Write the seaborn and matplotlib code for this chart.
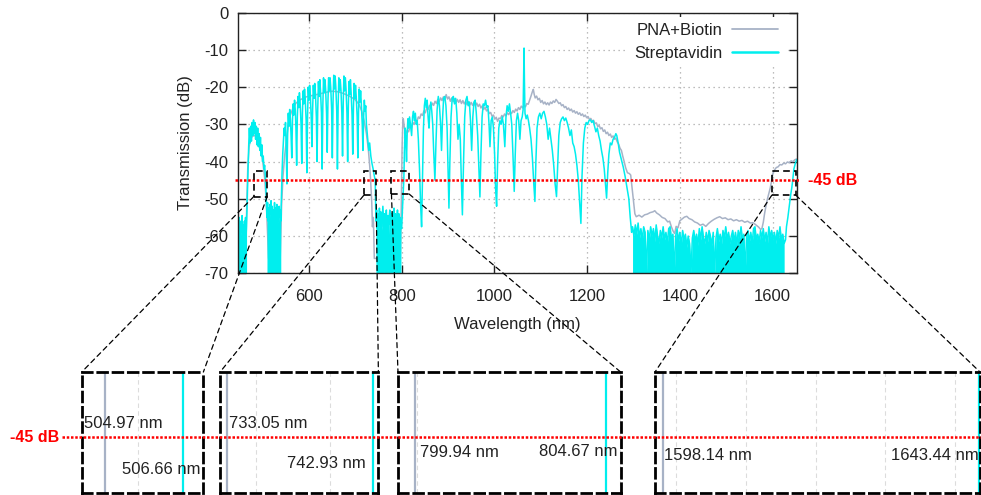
import pandas as pd
import matplotlib
matplotlib.use("Agg")
import matplotlib.pyplot as plt
from matplotlib.lines import Line2D
from matplotlib.patches import Rectangle, ConnectionPatch
from matplotlib.transforms import blended_transform_factory
import seaborn as sns

# ---------------------------------------------------------------------------
# Transmission spectra: (wavelength nm, transmission dB)
# ---------------------------------------------------------------------------
pna_trace = [
    (447, -66), (463, -66), (466, -52), (468, -42), (471, -36), (474, -34),
    (478, -33.2), (483, -33), (488, -33.5), (492, -34.5), (496, -36.5),
    (500, -39.5), (504.97, -45), (508, -51), (511, -60), (513, -66),
    (538, -66), (541, -52), (544, -44), (548, -38), (552, -33.5), (556, -29.5),
    (560, -27.5), (566, -25.5), (572, -24.3), (580, -23.5), (590, -22.8),
    (600, -22.4), (610, -22.2), (620, -21.9), (630, -21.6), (640, -21.3),
    (650, -21.1), (660, -21.2), (670, -21.5), (680, -22.0), (690, -22.6),
    (700, -23.4), (708, -24.6), (714, -26.5), (719, -29.0), (724, -32.5),
    (728, -36.5), (731, -41), (733.05, -45), (735.5, -51), (737, -57.5),
    (739, -55), (741, -66),
    (797, -66), (799, -54), (799.94, -45), (801, -36), (802.5, -29.5),
    (803.5, -28.5), (806, -31), (809, -32.5), (812, -31.5), (815, -32),
    (818, -30.5), (821, -31), (824, -29.5), (827, -30), (830, -28.8),
    (833, -29.2), (836, -28), (839, -28.4), (842, -27.2), (845, -27.6),
    (848, -26.4), (851, -26.9), (854, -25.6), (857, -26), (860, -24.9),
    (863, -25.5), (866, -24.3), (869, -24.9), (872, -23.8), (875, -24.4),
    (878, -23.3), (881, -23.9), (884, -22.9), (887, -23.6), (890, -22.6),
    (893, -23.4), (896, -22.0), (899, -23.2), (902, -22.6), (905, -23.8),
    (908, -22.9), (911, -23.9), (914, -23.1), (917, -24.2), (920, -23.3),
    (923, -24.1), (926, -23.4), (929, -24.4), (932, -23.6), (935, -24.5),
    (938, -23.8), (941, -24.7), (944, -23.9), (947, -24.8), (950, -24.1),
    (953, -24.9), (956, -24.2), (959, -25.0), (962, -24.3), (965, -25.2),
    (968, -24.6), (971, -25.6), (974, -25.0), (977, -26.0), (980, -25.4),
    (983, -26.4), (986, -26.0), (989, -27.1), (992, -26.8), (995, -27.8),
    (998, -27.5), (1001, -28.6), (1004, -28.1), (1007, -29.2), (1010, -28.3),
    (1013, -28.5), (1016, -27.6), (1019, -28.0), (1022, -27.2), (1025, -27.7),
    (1028, -26.9), (1031, -27.4), (1034, -26.6), (1037, -27.1), (1040, -26.3),
    (1043, -26.8), (1046, -25.9), (1049, -26.4), (1052, -25.5), (1055, -26.0),
    (1058, -25.1), (1061, -25.6), (1064, -24.8), (1067, -25.3), (1070, -24.4),
    (1073, -24.6), (1076, -23.5), (1079, -22.4), (1082, -21.2), (1084, -20.6),
    (1086, -22.0), (1088, -22.9), (1091, -22.4), (1094, -23.4), (1097, -23.0),
    (1100, -24.1), (1103, -23.6), (1106, -24.5), (1109, -24.0), (1112, -24.7),
    (1115, -24.2), (1118, -24.8), (1121, -24.0), (1124, -24.4), (1127, -23.7),
    (1130, -24.1), (1133, -23.3), (1136, -23.8), (1139, -24.4), (1142, -24.2),
    (1145, -25.0), (1148, -24.7), (1151, -25.5), (1154, -25.2), (1157, -26.0),
    (1160, -25.6), (1163, -26.3), (1166, -25.9), (1169, -26.7), (1172, -26.3),
    (1175, -27.0), (1178, -26.6), (1181, -27.3), (1184, -26.9), (1187, -27.6),
    (1190, -27.2), (1193, -27.9), (1196, -27.5), (1199, -28.2), (1202, -27.9),
    (1205, -28.7), (1208, -28.4), (1211, -29.2), (1214, -28.9), (1217, -29.8),
    (1220, -29.6), (1223, -30.6), (1226, -30.3), (1229, -31.2), (1232, -30.9),
    (1235, -31.9), (1238, -31.5), (1241, -32.5), (1244, -32.1), (1247, -33.0),
    (1250, -32.6), (1253, -33.5), (1256, -33.1), (1259, -34.0), (1262, -33.7),
    (1265, -34.7), (1268, -35.3), (1271, -36.4), (1274, -37.0), (1277, -38.6),
    (1280, -40.0), (1283, -41.6), (1287, -43.0), (1291, -43.2), (1294, -43.6),
    (1297, -47.0), (1300, -50.5), (1303, -54.0), (1306, -54.8), (1312, -54.4),
    (1318, -54.9), (1324, -54.3), (1330, -54.1), (1336, -53.7), (1342, -53.5),
    (1346, -53.2), (1350, -53.8), (1356, -54.3), (1362, -55.0), (1368, -55.3),
    (1374, -56.2), (1378, -56.0), (1382, -57.6), (1386, -58.8), (1389, -59.3),
    (1392, -57.4), (1396, -57.8), (1400, -55.9), (1405, -55.4), (1410, -54.9),
    (1415, -54.7), (1420, -55.3), (1426, -55.6), (1432, -56.2), (1438, -56.5),
    (1444, -57.1), (1450, -56.8), (1456, -57.4), (1462, -56.6), (1468, -56.0),
    (1474, -55.5), (1480, -55.1), (1486, -54.8), (1492, -55.3), (1498, -55.1),
    (1504, -55.6), (1510, -55.4), (1516, -55.9), (1522, -55.6), (1528, -56.0),
    (1534, -55.8), (1540, -56.3), (1546, -56.0), (1552, -56.5), (1558, -56.4),
    (1564, -57.0), (1570, -57.6), (1574, -58.2), (1577, -58.0), (1580, -56.3),
    (1583, -53.8), (1586, -51.8), (1589, -50.0), (1592, -48.6), (1595, -47.1),
    (1598.14, -45), (1601, -43.1), (1604, -42.3), (1608, -41.6), (1612, -41.4),
    (1616, -40.8), (1620, -40.9), (1624, -40.4), (1628, -40.6), (1632, -40.1),
    (1636, -40.3), (1640, -39.8), (1644, -40.0), (1648, -39.5), (1652, -39.3),
]

# Streptavidin trace, split into fringe bands and the noise-floor stretches
strep_noise_a = [
    (447, -57), (448.3, -60), (449.5, -55), (450.8, -58), (452, -62),
    (453.3, -56), (454.5, -59), (455.8, -54.5), (457, -60), (458.3, -57),
    (459.5, -61), (460.8, -56), (462, -58.5), (463.3, -55), (464.5, -60),
    (465.5, -57),
]
strep_band_a = [
    (467, -50), (468.5, -42), (470, -36), (471.5, -31), (473, -35),
    (474.5, -30.5), (476, -34.5), (477.5, -29.5), (479, -33), (480.5, -28.8),
    (482, -32.5), (483.5, -29.5), (485, -34), (486.5, -30.5), (488, -35.5),
    (489.5, -31), (491, -36), (492.5, -32.5), (494, -37), (495.5, -33.5),
    (497, -38.5), (498.5, -35.5), (500, -40), (501.5, -38.5), (503, -42),
    (504.5, -41), (506.66, -45), (507.5, -48), (508.5, -52),
]
strep_noise_b = [
    (509.5, -55), (510.8, -51), (512, -56), (513.3, -52.5), (514.5, -57),
    (515.8, -51.5), (517, -54), (518.3, -50.5), (519.5, -55.5), (520.8, -52),
    (522, -57), (523.3, -53), (524.5, -55.5), (525.8, -51), (527, -56.5),
    (528.3, -52.5), (529.5, -54.5), (530.8, -51.5), (532, -57), (533.3, -53.5),
    (534.5, -56), (535.8, -52), (537, -55), (538.3, -53), (539.3, -56),
]
strep_band_b = [
    (540.5, -50), (542, -43), (543.5, -38), (545, -34.5), (546.5, -31),
    (548, -33), (549.5, -29.5), (551, -36), (552.5, -46), (554, -33),
    (555.5, -27), (557, -30.5), (558.5, -26), (560, -28.5), (561.5, -33),
    (563, -39), (564.5, -29), (566, -24.5), (567.5, -27.5), (569, -23.5),
    (570.5, -26), (572, -31), (573.5, -41), (575, -28), (576.5, -22.5),
    (578, -25.5), (579.5, -21.5), (581, -24), (583, -30), (584.5, -40.5),
    (586, -27), (587.5, -21), (589, -24.5), (590.5, -20.5), (592, -23),
    (594, -29), (595.5, -43), (597, -28), (598.5, -20), (600, -23.5),
    (601.5, -19.5), (603, -22), (605, -28.5), (606.5, -36), (608, -26),
    (609.5, -19.5), (611, -23), (612.5, -19), (614, -21.5), (616, -28),
    (617.5, -40), (619, -26), (620.5, -18.5), (622, -22.5), (623.5, -18),
    (625, -21), (627, -27), (628.5, -42), (630, -25), (631.5, -17.5),
    (633, -21.5), (634.5, -18), (636, -20.5), (638, -27), (639.5, -37.5),
    (641, -24), (642.5, -17.5), (644, -21), (645.5, -17.5), (647, -20),
    (649, -26), (650.5, -39), (652, -24), (653.5, -16.8), (655, -20.5),
    (656.5, -17), (658, -20), (660, -26.5), (661.5, -42), (663, -25),
    (664.5, -17.5), (666, -21), (667.5, -18), (669, -20.5), (671, -27),
    (672.5, -38.5), (674, -24), (675.5, -17), (677, -21), (678.5, -17.5),
    (680, -20.5), (682, -27), (683.5, -40), (685, -25), (686.5, -18.5),
    (688, -22), (689.5, -18), (691, -21.5), (693, -27.5), (694.5, -38),
    (696, -25.5), (697.5, -19), (699, -23), (700.5, -19.5), (702, -22.5),
    (704, -28), (705.5, -39), (707, -26.5), (708.5, -20.5), (710, -24),
    (711.5, -21), (713, -24.5), (715, -30), (716.5, -37), (718, -28),
    (719.5, -23.5), (721, -26.5), (722.5, -25), (724, -30), (726.5, -33.5),
    (729, -37), (731, -35), (733.5, -38.5), (736, -40.5), (738.5, -42),
    (740.5, -43.5), (742.93, -45), (744, -53),
]
strep_noise_c = [
    (744.5, -56), (746, -53), (747.5, -58), (749, -54), (750.5, -59),
    (752, -52.5), (753.5, -57), (755, -53.5), (756.5, -58.5), (758, -55),
    (759.5, -52), (761, -57.5), (762.5, -54), (764, -59), (765.5, -55.5),
    (767, -53), (768.5, -58), (770, -54.5), (771.5, -60), (773, -55),
    (774.5, -53), (776, -57), (777.5, -54), (779, -58.5), (780.5, -53.5),
    (782, -56.5), (783.5, -52.5), (785, -57.5), (786.5, -54), (788, -59),
    (789.5, -55), (791, -53), (792.5, -57), (794, -54), (795.5, -58),
    (797, -55), (798.5, -57.5),
]
strep_band_c = [
    (800.0, -58), (802.0, -52), (804.67, -45), (806.0, -37), (807.5, -31),
    (809.0, -34), (810.5, -40), (812.0, -32), (813.5, -28.5), (815.0, -31),
    (817.0, -28), (819.0, -30), (821.5, -33), (823.5, -28), (825.5, -26.5),
    (827.5, -29), (829.5, -27), (831.5, -30), (833.5, -29), (836.0, -34),
    (838.5, -42), (841.0, -52), (843.0, -57.5), (845.0, -44), (847.0, -31),
    (849.0, -25), (851.0, -23), (853.0, -25.5), (855.0, -23.5), (857.0, -28),
    (859.0, -31), (861.0, -26), (863.0, -24), (865.0, -26.5), (867.0, -30),
    (869.0, -37), (871.7, -45), (874.0, -35), (876.5, -26), (879.0, -22.5),
    (881.5, -25), (884.0, -30), (886.0, -37), (888.0, -29), (890.5, -23),
    (893.0, -22.5), (895.5, -25), (898.0, -31), (900.0, -42), (902.0, -52.5),
    (904.0, -40), (906.5, -28), (909.0, -23), (911.5, -22.5), (914.0, -24.5),
    (916.5, -23), (919.0, -27), (921.5, -34), (924.0, -30), (926.5, -34),
    (928.5, -44), (931.0, -54.3), (933.5, -40), (936.0, -28), (938.5, -23.5),
    (941.0, -22.5), (943.5, -25), (946.0, -24), (948.5, -29), (951.0, -37),
    (953.5, -28), (956.0, -24), (958.5, -23.5), (961.0, -27), (964.0, -33),
    (966.5, -42), (968.8, -49.5), (971.0, -38), (973.5, -28), (976.0, -24.5),
    (978.5, -25), (981.0, -23.5), (983.5, -25.5), (986.0, -25), (988.5, -30),
    (990.5, -36), (993.0, -29), (995.5, -28), (998.0, -31), (1000.5, -38),
    (1002.5, -47), (1004.8, -52), (1007.0, -40), (1009.5, -31), (1012.0, -29),
    (1014.5, -30), (1017.0, -28), (1019.5, -30), (1022.5, -36), (1025.0, -28),
    (1027.5, -25), (1030.0, -26.5), (1032.5, -24.5), (1035.0, -27),
    (1037.5, -30), (1040.0, -38), (1042.8, -48), (1045.0, -38), (1047.5, -29),
    (1050.0, -27), (1052.5, -29), (1055.0, -34), (1057.5, -29), (1060.0, -28),
    (1062.0, -26), (1063.2, -17), (1064.0, -9.5), (1064.8, -18), (1066.0, -27),
    (1068.5, -28.5), (1071.0, -27.5), (1073.5, -29), (1076.0, -31),
    (1079.0, -34), (1082.0, -39), (1085.0, -46), (1087.4, -50.7),
    (1089.5, -40), (1092.0, -31), (1095.0, -28), (1098.0, -27), (1101.0, -28.5),
    (1104.0, -27), (1107.0, -26.5), (1110.0, -28), (1113.0, -30), (1116.0, -34),
    (1119.0, -31), (1122.0, -34), (1125.0, -37), (1128.0, -41), (1131.0, -46),
    (1134.0, -49.4), (1136.5, -41), (1139.0, -33), (1142.0, -29.5),
    (1145.0, -28.5), (1148.0, -28), (1151.0, -29), (1154.0, -28.3),
    (1157.0, -29.5), (1160.0, -31), (1163.0, -33), (1166.0, -31.5),
    (1169.0, -35), (1172.0, -36), (1175.0, -38), (1178.0, -41), (1181.0, -45),
    (1184.0, -51), (1186.6, -56.6), (1189.0, -44), (1192.0, -35),
    (1195.0, -31), (1198.0, -29.5), (1201.0, -30), (1204.0, -29),
    (1207.0, -28.8), (1210.0, -29.5), (1213.0, -29), (1216.0, -30.5),
    (1219.0, -32), (1222.0, -31), (1225.0, -33), (1228.0, -34.5),
    (1231.0, -37), (1234.0, -39), (1237.0, -42), (1240.0, -46.5),
    (1242.0, -49.8), (1244.5, -43), (1247.0, -38), (1250.0, -35),
    (1253.0, -35.5), (1256.0, -34), (1259.0, -33.5), (1262.0, -32.5),
    (1264.0, -33), (1267.0, -35), (1270.0, -37.5), (1274.0, -39.5),
    (1278.0, -41.5), (1282.0, -44), (1286.0, -47), (1290.0, -50),
    (1293.0, -55), (1296.0, -59),
]
strep_noise_d = [
    (1298, -57.5), (1301, -60), (1304, -57), (1307, -59.5), (1310, -56.5),
    (1313, -60.5), (1316, -58), (1319, -61), (1322, -57.5), (1325, -59),
    (1328, -70), (1331, -58.5), (1334, -61), (1337, -57.5), (1340, -60),
    (1343, -58), (1346, -61.5), (1349, -57), (1352, -60), (1355, -62),
    (1358, -58.5), (1361, -60.5), (1364, -57.5), (1367, -61), (1370, -59),
    (1373, -62), (1376, -58), (1379, -57.5), (1382, -61), (1385, -59.5),
    (1388, -70), (1391, -60), (1394, -58), (1397, -61.5), (1400, -59),
    (1403, -62.5), (1406, -58.5), (1409, -61), (1412, -59.5), (1415, -63),
    (1418, -60), (1421, -62), (1424, -70), (1427, -60.5), (1430, -58.5),
    (1433, -61.5), (1436, -59.5), (1439, -62.5), (1442, -58), (1445, -61),
    (1448, -57.5), (1451, -60.5), (1454, -62), (1457, -59), (1460, -61.5),
    (1463, -58.5), (1466, -60), (1469, -62.5), (1472, -59), (1475, -70),
    (1478, -60.5), (1481, -58), (1484, -61.5), (1487, -59.5), (1490, -62),
    (1493, -58.5), (1496, -60.5), (1499, -57.5), (1502, -61), (1505, -59),
    (1508, -62), (1511, -60), (1514, -58.5), (1517, -61.5), (1520, -59),
    (1523, -62.5), (1526, -58.5), (1529, -60.5), (1532, -57.5), (1535, -61),
    (1538, -59.5), (1541, -70), (1544, -60), (1547, -58.5), (1550, -61.5),
    (1553, -59), (1556, -62), (1559, -58), (1562, -57.5), (1565, -61),
    (1568, -59.5), (1571, -62), (1574, -58.5), (1577, -60.5), (1580, -58),
    (1583, -61.5), (1586, -59), (1589, -62), (1592, -57.5), (1595, -60.5),
    (1598, -58.5), (1601, -61), (1604, -59), (1607, -62), (1610, -58.5),
    (1613, -60.5), (1616, -57.5), (1619, -61), (1622, -59.5), (1625, -62),
]
strep_band_d = [
    (1628, -61), (1630, -57.5), (1633, -55), (1636, -52), (1639, -49),
    (1641.5, -47), (1643.44, -45), (1646, -42), (1649, -40.5), (1652, -39.5),
]

# -45 dB crossings read from each zoom window
threshold_db = -45
pna_cross = [504.97, 733.05, 799.94, 1598.14]
strep_cross = [506.66, 742.93, 804.67, 1643.44]

x_ticks = [600, 800, 1000, 1200, 1400, 1600]
y_ticks = [0, -10, -20, -30, -40, -50, -60, -70]
series_names = ["PNA+Biotin", "Streptavidin"]

# ---------------------------------------------------------------------------
# Layout and style
# ---------------------------------------------------------------------------
GRAY = "#A7B2C6"
CYAN = "#00EEEE"
RED = "#FF0000"

# zoom windows in the spectrum: (x0, x1, y_low, y_high)
zoom_windows = [(481, 510, -49.4, -42.4), (718, 745, -49.1, -42.6),
                (778, 816, -48.7, -42.6), (1598.5, 1650, -49.0, -42.4)]
inset_rects = [[0.0833, 0.005, 0.124, 0.2434], [0.2243, 0.005, 0.1614, 0.2434],
               [0.4057, 0.005, 0.2270, 0.2434], [0.6677, 0.005, 0.3313, 0.2434]]
inset_xlims = [(504.45, 507.11), (732.6, 743.3), (799.53, 805.02), (1596.95, 1643.6)]
inset_grid = [[505.67], [735, 740], [800, 805], [1600, 1610, 1620, 1630, 1640]]
inset_label_pos = [((0.02, 0.577), (0.975, 0.187)),
                   ((0.057, 0.577), (0.922, 0.245)),
                   ((0.099, 0.336), (0.986, 0.339)),
                   ((0.028, 0.311), (0.997, 0.311))]

sns.set_style("ticks")
plt.rcParams["font.family"] = ["Liberation Sans", "DejaVu Sans"]
plt.rcParams["axes.unicode_minus"] = False

fig = plt.figure(figsize=(9.81, 4.95), dpi=100)
fig.patch.set_facecolor("white")
ax = fig.add_axes([0.2426, 0.4479, 0.5695, 0.5265])

strep_trace = (strep_noise_a + strep_band_a + strep_noise_b + strep_band_b +
               strep_noise_c + strep_band_c + strep_noise_d + strep_band_d)
df = pd.concat([
    pd.DataFrame(pna_trace, columns=["wavelength", "transmission"]).assign(sample=series_names[0]),
    pd.DataFrame(strep_trace, columns=["wavelength", "transmission"]).assign(sample=series_names[1]),
], ignore_index=True)

sns.lineplot(data=df, x="wavelength", y="transmission", hue="sample",
             hue_order=series_names, palette={series_names[0]: GRAY, series_names[1]: CYAN},
             estimator=None, linewidth=1.1, legend=False, ax=ax)

# noise floor stretches of the Streptavidin measurement appear as a solid band
for seg in (strep_noise_a, strep_noise_b, strep_noise_c, strep_noise_d):
    wl = [p[0] for p in seg]
    db = [p[1] for p in seg]
    ax.fill_between(wl, db, -75, color=CYAN, linewidth=0, zorder=2.5)

ax.set_xlim(447, 1652)
ax.set_ylim(-70, 0)
ax.set_xticks(x_ticks)
ax.set_yticks(y_ticks)
ax.tick_params(direction="in", length=6, width=1, top=True, right=True,
               labelsize=12, colors="#222222")
ax.tick_params(axis="x", pad=11)
ax.tick_params(axis="y", pad=7)
ax.grid(True, color="#A8A8A8", linestyle=(0, (1, 3)), linewidth=0.9)
ax.set_axisbelow(True)
for sp in ax.spines.values():
    sp.set_linewidth(1.0)
    sp.set_color("#222222")
ax.set_xlabel("Wavelength (nm)", fontsize=12, labelpad=10, color="#222222")
ax.set_ylabel("Transmission (dB)", fontsize=12, labelpad=8, color="#222222")

# threshold line
tr = blended_transform_factory(ax.transAxes, ax.transData)
ax.plot([-0.006, 1.006], [threshold_db, threshold_db], transform=tr, color=RED,
        lw=1.8, ls=(0, (1, 0.7)), clip_on=False, zorder=4)
ax.text(1.02, threshold_db, f"{threshold_db} dB", transform=tr, color=RED,
        fontweight="bold", fontsize=11.5, va="center", ha="left")

handles = [Line2D([], [], color=GRAY, lw=1.3), Line2D([], [], color=CYAN, lw=1.8)]
leg = ax.legend(handles, series_names, loc="upper right", bbox_to_anchor=(0.979, 0.985),
                borderaxespad=0, markerfirst=False, frameon=True, fancybox=False,
                facecolor="white", framealpha=1, fontsize=12, handlelength=2.8,
                handletextpad=0.55, labelspacing=0.45, borderpad=0.4)
leg.get_frame().set_linewidth(0)
for t in leg.get_texts():
    t.set_color("#222222")

for (x0, x1, ylo, yhi) in zoom_windows:
    ax.add_patch(Rectangle((x0, ylo), x1 - x0, yhi - ylo, fill=False, ec="black",
                           lw=1.2, ls=(0, (4, 2.5)), zorder=5))

# zoomed views of each -45 dB crossing
insets = []
for rect, xl, grid, pc, sc, win, (lpos, rpos) in zip(
        inset_rects, inset_xlims, inset_grid, pna_cross, strep_cross,
        zoom_windows, inset_label_pos):
    iax = fig.add_axes(rect)
    insets.append(iax)
    iax.set_facecolor("white")
    iax.set_xlim(xl)
    iax.set_ylim(-49.6, -39.6)
    iax.set_xticks(grid)
    iax.set_yticks([])
    iax.tick_params(length=0, labelbottom=False, labelleft=False)
    iax.grid(axis="x", color="#DCDCDC", linestyle=(0, (4, 3)), linewidth=0.8)
    iax.axvline(pc, color=GRAY, lw=1.6)
    iax.axvline(sc, color=CYAN, lw=1.6)
    for sp in iax.spines.values():
        sp.set_linewidth(2.0)
        sp.set_color("black")
        sp.set_linestyle((0, (3.5, 2)))
    iax.text(lpos[0], lpos[1], f"{pc:.2f} nm", transform=iax.transAxes,
             ha="left", va="center", fontsize=12, color="#222222")
    iax.text(rpos[0], rpos[1], f"{sc:.2f} nm", transform=iax.transAxes,
             ha="right", va="center", fontsize=12, color="#222222")
    x0, x1, ylo, yhi = win
    for xa, xb in ((x0, 0), (x1, 1)):
        con = ConnectionPatch(xyA=(xa, ylo), coordsA=ax.transData,
                              xyB=(xb, 1), coordsB=iax.transAxes,
                              color="black", lw=0.9, ls=(0, (4, 3)))
        fig.add_artist(con)

btr = blended_transform_factory(fig.transFigure, insets[0].transData)
fig.add_artist(Line2D([0.0632, 1.0], [threshold_db, threshold_db], transform=btr,
                      color=RED, lw=1.8, ls=(0, (1, 0.7)), zorder=6))
fig.text(0.0102, threshold_db, f"{threshold_db} dB", transform=btr, color=RED,
         fontweight="bold", fontsize=11.5, va="center", ha="left")

fig.savefig("out.png", dpi=100, facecolor="white")
